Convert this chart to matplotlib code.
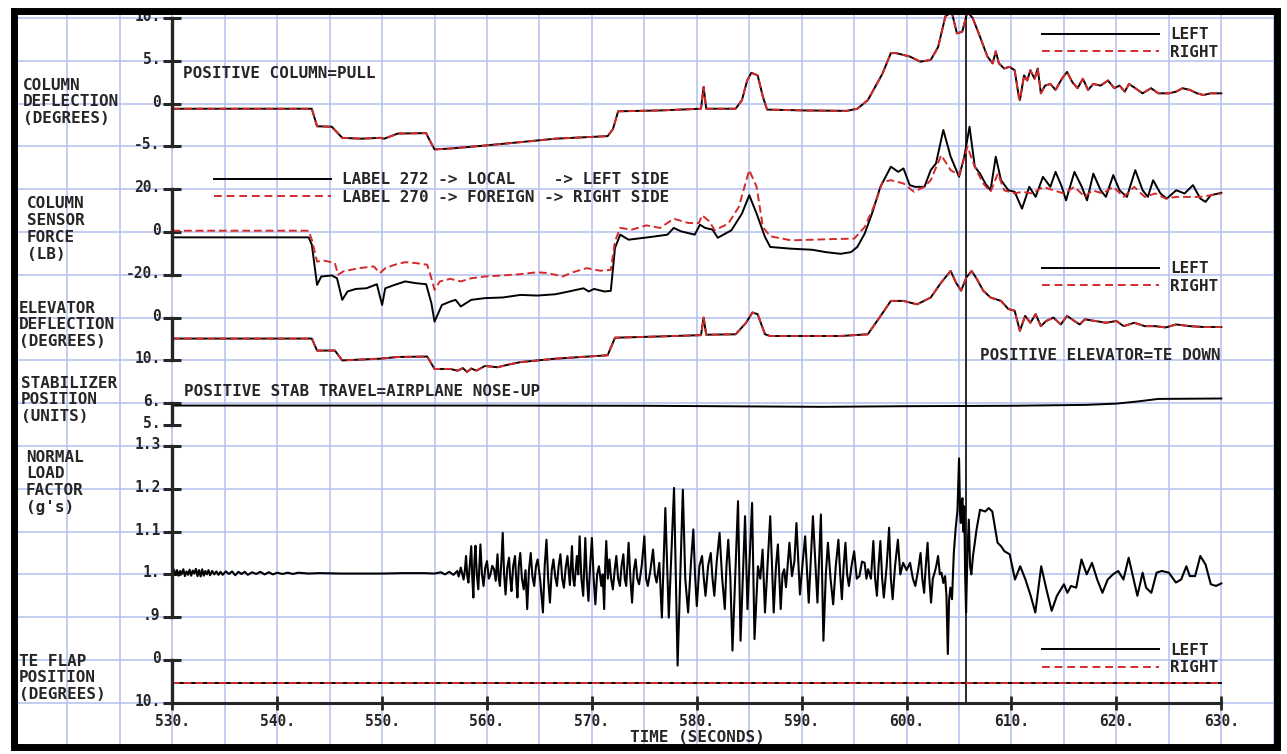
import matplotlib
matplotlib.use("Agg")
import matplotlib.pyplot as plt
from matplotlib.lines import Line2D
from matplotlib.patches import Rectangle
from matplotlib.ticker import MultipleLocator
from matplotlib.transforms import ScaledTranslation

W, H = 1287, 754
FONT = ["DejaVu Sans Mono", "DejaVu Sans"]
INK = "#262626"
GRID = "#b3c0f0"
RED = "#d62a2a"

# ---- values: (time s, value) ----
# column deflection, deg (left and right columns lie on top of each other)
COL_DEFL = [(530, -0.6), (543.3, -0.6), (543.8, -2.65), (545.2, -2.7), (546.2, -4.0), (548, -4.1),
            (549.8, -4.0), (550.2, -4.1), (551.5, -3.5), (554.2, -3.45), (554.5, -4.2), (555, -5.35),
            (556.5, -5.25), (559.8, -4.9), (563.2, -4.5), (566.5, -4.1), (571.5, -3.8), (572.0, -3.0),
            (572.5, -0.9), (576.5, -0.8), (580.4, -0.6), (580.65, 1.95), (580.9, -0.6), (583.7, -0.6),
            (584.3, 0.4), (584.8, 2.7), (585.2, 3.6), (585.8, 3.3), (586.3, 0.8), (586.7, -0.7),
            (590.3, -0.8), (594.3, -0.85), (595.3, -0.6), (596.3, 0.4), (597.7, 3.5), (598.5, 5.9),
            (599.0, 5.9), (600.3, 5.5), (601.3, 4.9), (602.3, 5.1), (603.0, 6.6), (603.7, 10.2),
            (604.3, 10.7), (604.8, 8.2), (605.3, 8.4), (605.8, 10.7), (606.3, 10.0), (607.0, 7.8),
            (607.7, 5.5), (608.2, 4.7), (608.5, 6.1), (608.8, 4.7), (609.3, 4.1), (609.8, 4.3),
            (610.3, 3.9), (610.7, 0.8), (610.8, 0.4), (611.2, 3.3), (611.5, 2.7), (611.8, 3.9),
            (612.2, 2.9), (612.5, 4.1), (612.8, 1.2), (613.2, 2.1), (613.7, 2.3), (614.2, 1.6),
            (614.8, 2.9), (615.3, 3.7), (615.8, 2.5), (616.3, 1.8), (616.8, 2.9), (617.3, 1.6),
            (617.8, 2.3), (618.5, 2.1), (619.2, 2.7), (619.8, 1.8), (620.3, 2.1), (620.8, 1.4),
            (621.2, 2.3), (621.8, 1.8), (622.5, 1.2), (623.3, 1.8), (624.0, 1.2), (625.0, 1.2),
            (625.7, 1.4), (626.3, 1.8), (627.0, 1.6), (627.7, 1.2), (628.3, 1.0), (629.0, 1.2), (630, 1.2)]

# column sensor force, lb: label 272 (local, left) and label 270 (foreign, right)
FORCE_L = [(530, -2.5), (543.0, -2.5), (543.3, -5.9), (543.8, -24.7), (544.2, -20.8), (545.2, -20.3),
           (545.7, -21.6), (546.2, -31.7), (546.7, -27.8), (547.5, -26.6), (548.5, -26.3), (549.5, -24.4),
           (550.0, -34.1), (550.3, -26.3), (551.2, -24.7), (552.2, -23.1), (553.2, -23.9), (554.2, -24.4),
           (554.7, -33.3), (555.0, -41.9), (555.7, -34.1), (556.5, -32.5), (557.0, -31.7), (557.5, -34.8),
           (558.5, -31.7), (559.8, -30.9), (561.5, -30.6), (563.2, -29.4), (564.8, -29.7), (566.5, -29.1),
           (567.8, -27.8), (569.2, -26.3), (569.7, -27.8), (570.2, -26.6), (571.2, -27.8), (571.8, -27.5),
           (572.2, -7.5), (572.7, -1.25), (573.5, -3.6), (574.8, -2.8), (575.8, -2.2), (577.2, -1.25),
           (577.8, 1.9), (578.5, 0.3), (579.8, -1.25), (580.3, 3.4), (580.8, 1.9), (581.5, 1.1),
           (582.0, -2.7), (583.3, 0.8), (584.3, 8.6), (585.0, 17.2), (585.7, 8.6), (586.5, -2.3),
           (587.0, -7.0), (589.0, -7.8), (591.0, -8.3), (592.3, -9.4), (593.7, -10.2), (594.7, -9.4),
           (595.3, -7.0), (596.0, -0.8), (596.7, 8.6), (597.5, 21.1), (598.5, 30.5), (599.2, 28.1),
           (599.7, 29.7), (600.3, 21.9), (600.8, 21.1), (601.7, 21.1), (602.3, 28.9), (602.8, 32.0),
           (603.5, 47.7), (604.2, 35.2), (605.0, 25.8), (605.5, 35.2), (606.0, 49.2), (606.5, 30.5),
           (607.0, 27.3), (607.5, 22.7), (608.0, 19.5), (608.5, 35.2), (609.0, 24.2), (609.7, 19.5),
           (610.3, 18.8), (611.0, 10.9), (611.7, 21.1), (612.3, 16.4), (613.0, 25.8), (613.7, 21.1),
           (614.2, 28.1), (614.8, 21.1), (615.2, 14.8), (616.0, 28.1), (616.7, 21.1), (617.2, 14.8),
           (617.8, 27.3), (618.5, 19.5), (619.0, 16.4), (619.7, 26.6), (620.3, 19.5), (621.0, 16.4),
           (621.8, 28.9), (622.5, 19.5), (623.0, 16.4), (623.5, 24.2), (624.2, 18.0), (624.8, 15.6),
           (625.7, 19.5), (626.5, 18.0), (627.3, 21.9), (628.0, 15.6), (628.5, 14.1), (629.0, 17.2), (630, 18.3)]

FORCE_R = [(530, 0.6), (543.0, 0.6), (543.3, -3.6), (543.8, -13.8), (544.5, -13.4), (545.5, -14.5),
           (545.8, -20.0), (546.3, -18.4), (547.8, -16.9), (549.2, -16.1), (549.8, -19.2), (550.3, -16.9),
           (551.2, -15.3), (552.2, -14.1), (553.2, -14.5), (554.3, -15.3), (554.7, -21.6), (555.0, -27.0),
           (555.5, -23.1), (556.5, -21.9), (557.5, -23.1), (558.5, -21.6), (559.8, -20.8), (561.5, -20.3),
           (563.2, -19.7), (564.8, -18.8), (565.8, -19.2), (567.2, -20.8), (568.2, -18.8), (569.5, -16.9),
           (570.8, -18.1), (571.8, -17.7), (572.2, -4.4), (572.7, 1.9), (573.8, 1.1), (575.2, 3.1),
           (576.5, 1.9), (577.8, 6.2), (579.2, 4.2), (580.2, 4.2), (580.5, 7.8), (581.2, 5.0),
           (581.7, 0.8), (583.0, 3.9), (584.0, 11.7), (585.0, 28.9), (585.7, 21.1), (586.3, 2.3),
           (587.0, -2.0), (589.0, -3.9), (591.0, -3.6), (593.0, -3.3), (595.0, -3.1), (596.0, 2.3),
           (597.0, 13.3), (597.7, 23.4), (598.5, 24.2), (599.7, 22.7), (600.7, 18.8), (601.7, 21.1),
           (602.3, 24.2), (603.3, 35.9), (604.2, 28.9), (605.0, 26.6), (605.8, 39.8), (606.5, 30.5),
           (607.3, 22.7), (608.0, 18.8), (608.7, 27.3), (609.3, 19.5), (610.3, 18.0), (611.0, 18.8),
           (612.0, 18.0), (613.0, 21.1), (614.0, 19.5), (615.0, 18.0), (616.0, 21.1), (617.0, 16.4),
           (617.7, 19.5), (618.7, 18.0), (619.7, 21.1), (620.7, 16.4), (621.7, 21.1), (622.7, 16.4),
           (623.7, 18.0), (624.7, 15.6), (625.7, 16.4), (627.0, 16.4), (628.0, 16.4), (629.0, 17.2), (630, 18.0)]

# elevator deflection, deg (positive = TE down), left and right overlap
ELEV = [(530, 4.9), (543.3, 4.9), (543.8, 7.7), (545.5, 7.7), (546.2, 10.0), (549.8, 9.6), (551.5, 9.2),
        (554.3, 9.1), (555.0, 12.0), (556.5, 12.0), (557.2, 12.4), (557.7, 11.8), (558.1, 12.7),
        (558.5, 11.9), (559.0, 12.4), (559.8, 11.3), (561.0, 11.6), (562.0, 11.0), (563.2, 10.4),
        (566.5, 9.6), (571.5, 8.8), (572.2, 4.7), (576.5, 4.4), (580.4, 4.1), (580.65, 0.0), (580.9, 4.0),
        (583.7, 3.9), (584.7, 1.2), (585.3, -1.2), (585.8, -0.8), (586.5, 3.9), (587.0, 4.3), (593.7, 4.3),
        (596.3, 3.9), (597.3, 0.4), (598.5, -3.9), (599.7, -3.9), (601.0, -3.1), (602.3, -4.7),
        (603.3, -8.2), (604.2, -10.9), (604.7, -8.2), (605.2, -6.3), (605.7, -9.4), (606.2, -10.9),
        (606.7, -9.0), (607.3, -6.3), (608.0, -4.7), (608.5, -4.3), (609.0, -3.9), (609.7, -2.0),
        (610.3, -1.6), (610.8, 3.1), (611.3, -0.4), (611.8, 1.2), (612.3, -0.8), (612.8, 2.0),
        (613.3, 0.8), (614.0, 0.0), (614.7, 1.6), (615.3, -0.4), (616.0, 0.8), (616.5, 1.6), (617.0, 0.4),
        (618.0, 0.8), (619.0, 1.2), (620.0, 0.8), (620.7, 2.0), (621.7, 1.2), (622.7, 2.0), (623.7, 2.0),
        (624.7, 2.3), (625.7, 1.6), (627.0, 2.0), (628.3, 2.2), (630, 2.2)]

# stabilizer position, units
STAB = [(530, 5.89), (560, 5.89), (575, 5.88), (585, 5.85), (592, 5.83), (600, 5.86), (610, 5.88),
        (617, 5.92), (620, 5.98), (622, 6.08), (624, 6.2), (630, 6.22)]

# normal load factor, g
NZ = [(530.0, 1.004), (530.15, 1.011), (530.3, 0.999), (530.45, 1.010), (530.6, 0.997), (530.75, 1.008),
      (530.9, 1.001), (531.05, 1.012), (531.2, 0.996), (531.35, 1.007), (531.5, 0.999), (531.65, 1.011),
      (531.8, 0.997), (531.95, 1.009), (532.1, 1.002), (532.25, 1.013), (532.4, 0.996), (532.55, 1.010),
      (532.7, 0.995), (532.85, 1.012), (533.0, 0.997), (533.15, 1.008), (533.3, 1.000), (533.45, 1.010),
      (533.6, 0.998), (533.8, 1.008), (534.0, 1.000), (534.2, 1.007), (534.4, 0.999), (534.6, 1.006),
      (534.8, 0.999), (535.1, 1.007), (535.4, 1.001), (535.7, 1.007), (536.0, 0.998), (536.3, 1.006),
      (536.6, 1.001), (536.9, 1.006), (537.2, 0.999), (537.6, 1.005), (538.0, 1.001), (538.4, 1.006),
      (538.8, 1.000), (539.2, 1.005), (539.6, 1.000), (540.0, 1.004), (540.5, 1.001), (541.0, 1.004),
      (541.5, 1.001), (542.0, 1.004), (543.0, 1.002), (544.0, 1.003), (546.0, 1.002), (548.0, 1.002),
      (550.0, 1.002), (552.0, 1.003), (554.0, 1.003), (555.0, 1.002), (555.6, 1.005), (556.0, 1.000),
      (556.4, 1.006), (556.8, 0.999),
      (557.17, 1.008), (557.3, 0.995), (557.5, 1.016), (557.65, 1.000), (557.77, 0.988), (557.9, 1.012),
      (558.0, 1.043), (558.12, 0.995), (558.23, 0.981), (558.35, 1.020), (558.5, 1.066), (558.6, 0.990),
      (558.7, 0.946), (558.8, 1.030), (558.9, 1.067), (559.03, 1.000), (559.17, 0.965), (559.27, 1.020),
      (559.37, 1.070), (559.52, 1.000), (559.67, 0.973), (559.83, 1.015), (560.0, 1.031), (560.17, 0.990),
      (560.33, 1.000), (560.5, 1.020), (560.67, 1.012), (560.83, 0.985), (561.0, 1.047), (561.12, 0.990),
      (561.23, 0.973), (561.37, 1.030), (561.5, 1.097), (561.63, 1.000), (561.77, 0.953), (561.93, 1.015),
      (562.1, 1.039), (562.22, 0.990), (562.33, 0.961), (562.5, 1.020), (562.67, 1.043), (562.78, 0.990),
      (562.9, 0.946), (563.03, 1.020), (563.17, 1.050), (563.33, 0.990), (563.5, 0.965), (563.67, 1.010),
      (563.83, 0.919), (564.0, 1.010), (564.17, 1.050), (564.33, 0.995), (564.5, 0.973), (564.67, 1.020),
      (564.83, 1.035), (565.08, 0.985), (565.33, 0.911), (565.5, 1.020), (565.67, 1.081), (565.83, 0.990),
      (566.0, 0.934), (566.17, 1.010), (566.33, 1.035), (566.5, 0.995), (566.67, 0.973), (566.83, 1.020),
      (567.0, 1.047), (567.17, 0.990), (567.33, 0.969), (567.5, 1.015), (567.67, 1.043), (567.9, 0.975),
      (568.1, 1.066), (568.22, 0.990), (568.33, 0.973), (568.57, 1.043), (568.7, 1.000), (568.83, 1.089),
      (569.0, 0.990), (569.17, 0.950), (569.27, 1.020), (569.37, 1.085), (569.52, 0.990), (569.67, 0.938),
      (569.83, 1.020), (570.0, 1.085), (570.17, 0.990), (570.33, 0.930), (570.5, 1.000), (570.67, 1.019),
      (570.9, 0.973), (571.03, 1.000), (571.17, 0.919), (571.27, 1.020), (571.37, 1.078), (571.52, 0.990),
      (571.67, 1.035), (571.83, 0.990), (572.0, 0.965), (572.17, 1.010), (572.33, 1.043), (572.5, 0.990),
      (572.67, 0.973), (572.83, 1.020), (573.0, 1.047), (573.13, 0.990), (573.27, 0.973), (573.38, 1.020),
      (573.5, 1.074), (573.67, 0.990), (573.83, 0.934), (574.0, 1.010), (574.17, 1.035), (574.33, 0.990),
      (574.5, 0.977), (574.75, 1.020), (575.0, 1.089), (575.17, 0.990), (575.33, 0.973), (575.58, 1.010),
      (575.83, 1.058), (576.0, 1.000), (576.17, 0.981), (576.43, 1.027), (576.67, 0.899), (577.0, 1.155),
      (577.33, 0.899), (577.6, 1.060), (577.83, 1.202), (578.17, 0.787), (578.67, 1.198), (578.9, 0.990),
      (579.17, 0.911), (579.45, 1.030), (579.67, 1.105), (579.83, 1.000), (580.0, 0.926), (580.25, 1.020),
      (580.5, 1.043), (580.67, 0.990), (580.83, 0.950), (581.08, 1.020), (581.33, 1.050), (581.5, 0.990),
      (581.67, 0.950), (581.9, 1.030), (582.17, 1.097), (582.42, 0.990), (582.67, 0.919), (582.83, 1.020),
      (583.0, 1.081), (583.2, 0.990), (583.4, 0.822), (583.93, 1.171), (584.17, 0.845), (584.6, 1.136),
      (584.83, 0.919), (585.27, 1.167), (585.5, 0.849), (585.83, 1.019), (586.05, 0.990), (586.27, 1.058),
      (586.5, 0.911), (587.0, 1.136), (587.33, 0.911), (587.55, 1.020), (587.73, 1.070), (588.0, 0.919),
      (588.17, 1.000), (588.33, 1.012), (588.5, 0.970), (588.83, 1.074), (589.07, 0.996), (589.3, 1.030),
      (589.5, 1.120), (589.83, 0.953), (590.1, 1.030), (590.33, 1.089), (590.67, 0.934), (591.07, 1.136),
      (591.5, 0.934), (591.83, 1.140), (592.07, 0.845), (592.3, 1.000), (592.5, 1.074), (592.75, 0.990),
      (593.0, 0.930), (593.25, 1.020), (593.5, 1.081), (593.67, 1.000), (593.83, 0.942), (594.0, 1.020),
      (594.17, 1.074), (594.33, 1.000), (594.5, 0.973), (594.75, 1.020), (595.0, 1.054), (595.25, 0.990),
      (595.5, 0.996), (595.75, 1.030), (596.0, 1.027), (596.17, 0.990), (596.33, 1.012), (596.6, 0.990),
      (596.83, 1.078), (597.0, 0.990), (597.17, 0.950), (597.33, 1.020), (597.5, 1.078), (597.67, 0.990),
      (597.83, 0.946), (598.1, 1.020), (598.33, 1.109), (598.5, 0.990), (598.67, 0.942), (598.9, 1.020),
      (599.17, 1.081), (599.4, 1.000), (599.67, 1.027), (600.0, 1.010), (600.33, 1.027), (600.6, 0.990),
      (600.83, 0.973), (601.1, 1.010), (601.33, 1.050), (601.5, 0.990), (601.67, 0.957), (601.83, 1.020),
      (602.0, 1.074), (602.17, 0.990), (602.33, 0.934), (602.5, 0.990), (602.67, 1.004), (602.83, 1.020),
      (603.0, 1.043), (603.17, 1.000), (603.33, 1.004), (603.5, 0.980), (603.67, 0.996), (603.8, 0.950),
      (603.93, 0.814), (604.05, 0.940), (604.17, 0.969), (604.33, 0.942), (604.5, 1.050), (604.67, 1.105),
      (604.85, 1.150), (605.0, 1.271), (605.1, 1.140), (605.17, 1.120), (605.25, 1.170), (605.33, 1.178),
      (605.42, 1.100), (605.5, 1.159), (605.58, 1.000), (605.67, 0.911), (605.8, 1.050), (605.93, 1.128),
      (606.05, 1.020), (606.17, 1.000), (606.33, 1.043), (606.67, 1.105), (607.0, 1.151), (607.5, 1.147),
      (607.83, 1.155), (608.17, 1.147), (608.67, 1.074), (609.0, 1.066), (609.33, 1.054), (609.83, 1.047),
      (610.33, 0.988), (610.83, 1.019), (611.33, 0.988), (611.83, 0.950), (612.27, 0.911), (612.83, 1.019),
      (613.33, 0.965), (613.83, 0.915), (614.33, 0.950), (615.0, 0.977), (615.33, 0.957), (615.67, 0.973),
      (616.17, 0.969), (616.67, 1.035), (617.17, 1.000), (617.67, 1.027), (618.17, 0.988), (618.67, 0.957),
      (619.17, 0.988), (619.67, 1.000), (620.17, 1.008), (620.67, 0.988), (621.17, 1.039), (621.5, 1.004),
      (622.0, 0.950), (622.5, 1.004), (622.83, 0.969), (623.33, 0.957), (623.83, 1.004), (624.33, 1.008),
      (625.0, 1.004), (625.67, 0.981), (626.17, 0.988), (626.67, 1.019), (627.0, 0.996), (627.5, 0.996),
      (628.0, 1.043), (628.5, 1.023), (629.0, 0.977), (629.5, 0.973), (630.0, 0.979)]

# trailing edge flap position, deg
FLAP = [(530, 5.3), (630, 5.3)]

TIME_TICKS = list(range(530, 631, 10))
EVENT_T = 605.7

# ---- page geometry (pixels of the original sheet) ----
X530, PX_S = 172.3, 10.49     # time axis: px of 530 s, px per second
Y_ROW0, PX_ROW = 18.0, 42.8   # horizontal grid: px of first line, px between lines
BOX = (13.5, 10.5, 1276.5, 746.5)


def sec(px):
    return 530 + (px - X530) / PX_S


def row(py):
    return (py - Y_ROW0) / PX_ROW


def fx(px):
    return px / W


def fy(py):
    return 1 - py / H


TXT = dict(family=FONT, weight="bold", color=INK)

fig = plt.figure(figsize=(W / 100, H / 100), dpi=100)
l, t, r, b = BOX
rect = [l / W, 1 - b / H, (r - l) / W, (b - t) / H]

ax = fig.add_axes(rect)
ax.set_xlim(sec(l), sec(r))
ax.set_ylim(row(b), row(t))
ax.set_yticks(range(0, 18))
ax.xaxis.set_minor_locator(MultipleLocator(5))
ax.grid(True, which="both", color=GRID, lw=1.1)
ax.set_axisbelow(True)
ax.tick_params(axis="y", left=False, labelleft=False)
ax.tick_params(axis="x", which="minor", length=0)
for s in ("top", "right", "left"):
    ax.spines[s].set_visible(False)
ax.spines["bottom"].set_position(("data", 16))
ax.spines["bottom"].set_bounds(530, 630)
ax.spines["bottom"].set_linewidth(2.2)
ax.spines["bottom"].set_color(INK)
ax.set_xticks(TIME_TICKS, [f"{v}." for v in TIME_TICKS], fontsize=10.5, **TXT)
ax.tick_params(axis="x", which="major", direction="inout", length=10, width=2, pad=3, colors=INK)

lift = ScaledTranslation(0, 3 / 100, fig.dpi_scale_trans)   # labels sit a little above their ticks


def channel(n_a, v_a, n_b, v_b, ticks, labels):
    c = fig.add_axes(rect)
    c.patch.set_visible(False)
    c.set_xlim(ax.get_xlim())
    k = (v_b - v_a) / (n_b - n_a)
    y0, y1 = ax.get_ylim()
    c.set_ylim(v_a + (y0 - n_a) * k, v_a + (y1 - n_a) * k)
    for s in ("top", "right", "bottom"):
        c.spines[s].set_visible(False)
    sp = c.spines["left"]
    sp.set_position(("data", 530))
    sp.set_bounds(min(ticks), max(ticks))
    sp.set_linewidth(2.4)
    sp.set_color(INK)
    c.set_yticks(ticks, labels, fontsize=10.5, **TXT)
    c.tick_params(axis="y", direction="inout", length=13, width=2.2, pad=2, colors=INK)
    c.tick_params(axis="x", which="both", bottom=False, labelbottom=False)
    for tk in c.yaxis.get_major_ticks():
        tk.label1.set_transform(tk.label1.get_transform() + lift)
    return c


def pair(c, left, right):
    c.plot(*zip(*left), color="black", lw=1.4)
    c.plot(*zip(*right), color=RED, lw=1.4, ls=(0, (4, 2)))


ax_cd = channel(0, 10, 2, 0, [10, 5, 0, -5], ["10.", "5.", "0", "-5."])
pair(ax_cd, COL_DEFL, COL_DEFL)

ax_cf = channel(4, 20, 5, 0, [20, 0, -20], ["20.", "0", "-20."])
pair(ax_cf, FORCE_L, FORCE_R)

ax_el = channel(7, 0, 8, 10, [0, 10], ["0", "10."])
pair(ax_el, ELEV, ELEV)

ax_st = channel(9, 6, 9.5, 5, [6, 5], ["6.", "5."])
ax_st.plot(*zip(*STAB), color="black", lw=1.4)

ax_nz = channel(10, 1.3, 13, 1.0, [1.3, 1.2, 1.1, 1.0, 0.9], ["1.3", "1.2", "1.1", "1.", ".9"])
ax_nz.plot(*zip(*NZ), color="black", lw=1.5)

ax_fl = channel(15, 0, 16, 10, [0, 10], ["0", "10."])
pair(ax_fl, FLAP, FLAP)

# event marker from the top of the sheet down to the time axis
y0, y1 = ax.get_ylim()
ax.axvline(EVENT_T, ymin=(y0 - 16) / (y0 - y1), ymax=1, color="#2a2a2a", lw=1.4, zorder=3)

# ---- annotations ----
fig.text(fx(183), fy(73), "POSITIVE COLUMN=PULL", ha="left", va="center", fontsize=11.5, **TXT)
fig.text(fx(184), fy(391), "POSITIVE STAB TRAVEL=AIRPLANE NOSE-UP", ha="left", va="center",
         fontsize=11.5, **TXT)
fig.text(fx(1221), fy(355), "POSITIVE ELEVATOR=TE DOWN", ha="right", va="center", fontsize=11.5, **TXT)
fig.text(fx(697), fy(738), "TIME (SECONDS)", ha="center", va="center", fontsize=11.5, **TXT)

blocks = [(23, 85, ["COLUMN", "DEFLECTION", "(DEGREES)"]),
          (27, 204, ["COLUMN", "SENSOR", "FORCE", "(LB)"]),
          (19, 308, ["ELEVATOR", "DEFLECTION", "(DEGREES)"]),
          (21, 383, ["STABILIZER", "POSITION", "(UNITS)"]),
          (26, 457, ["NORMAL", "LOAD", "FACTOR", "(g's)"]),
          (19, 661, ["TE FLAP", "POSITION", "(DEGREES)"])]
for x0, ytop, lines in blocks:
    for i, s in enumerate(lines):
        fig.text(fx(x0), fy(ytop + i * 16.7), s, ha="left", va="center", fontsize=11.5, **TXT)


def key(labels, px, py):
    handles = [Line2D([], [], color="black", lw=1.4),
               Line2D([], [], color=RED, lw=1.4, ls=(0, (4, 2.5)))]
    lg = fig.legend(handles, labels, loc="center left", bbox_to_anchor=(fx(px), fy(py)),
                    frameon=False, prop=dict(family=FONT, weight="bold", size=11.5),
                    handlelength=7.3, handletextpad=0.7, labelspacing=0.15,
                    borderpad=0, borderaxespad=0)
    for tx in lg.get_texts():
        tx.set_color(INK)


key(["LABEL 272 -> LOCAL    -> LEFT SIDE", "LABEL 270 -> FOREIGN -> RIGHT SIDE"], 214, 188.5)
key(["LEFT", "RIGHT"], 1042, 43.5)
key(["LEFT", "RIGHT"], 1042, 277.5)
key(["LEFT", "RIGHT"], 1042, 659)

fig.add_artist(Rectangle((l / W, 1 - b / H), (r - l) / W, (b - t) / H, transform=fig.transFigure,
                         fill=False, edgecolor="black", lw=5, zorder=10))

fig.savefig("out.png", dpi=100)
